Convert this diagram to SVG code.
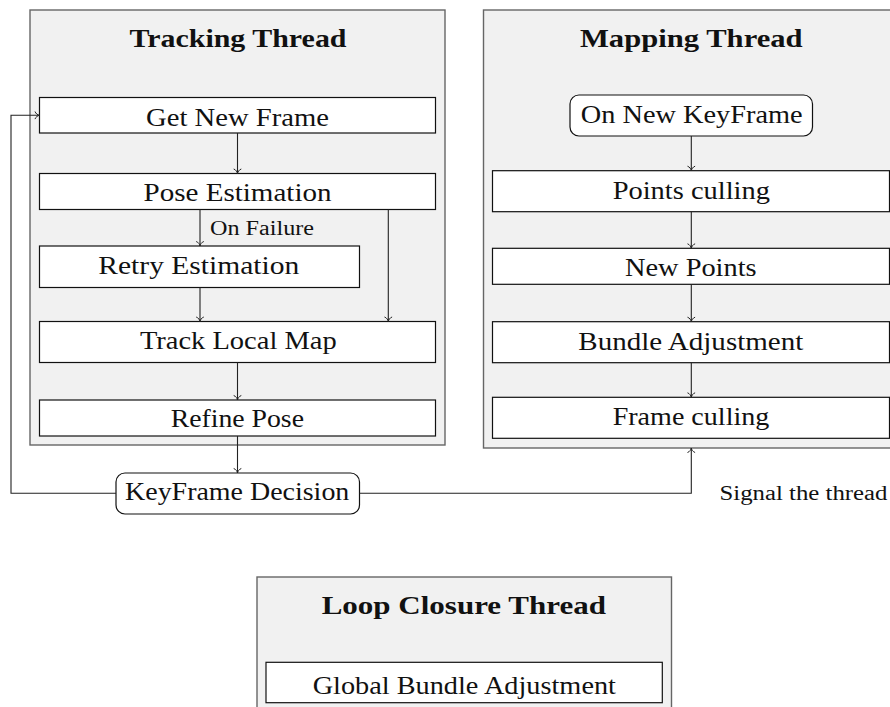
<svg xmlns="http://www.w3.org/2000/svg" width="890" height="707" viewBox="0 0 890 707">
  <style>
    .panel { fill: #f1f1f1; stroke: #666666; stroke-width: 1.4; }
    .box { fill: #ffffff; stroke: #111111; stroke-width: 1.2; }
    .title { font-family: "Liberation Serif", "DejaVu Serif", serif; font-weight: bold; font-size: 26px; fill: #111111; text-anchor: middle; }
    .lbl { font-family: "Liberation Serif", "DejaVu Serif", serif; font-size: 26px; fill: #111111; text-anchor: middle; }
    .note { font-family: "Liberation Serif", "DejaVu Serif", serif; font-size: 20.5px; fill: #111111; }
    .edge { fill: none; stroke: #222222; stroke-width: 1.1; marker-end: url(#tip); }
  </style>
  <defs>
    <marker id="tip" viewBox="-6 -5 8 10" refX="0" refY="0" markerWidth="8" markerHeight="10" markerUnits="userSpaceOnUse" orient="auto">
      <path d="M-4.5,-3.8 C-3.8,-1.6 -1.6,-0.3 0,0 C-1.6,0.3 -3.8,1.6 -4.5,3.8" fill="none" stroke="#222222" stroke-width="1"/>
    </marker>
  </defs>

  <!-- thread panels -->
  <g id="tracking-thread">
    <rect class="panel" x="30" y="10" width="415" height="435"/>
    <text class="title" x="238" y="47" textLength="217" lengthAdjust="spacingAndGlyphs">Tracking Thread</text>
  </g>
  <g id="mapping-thread">
    <rect class="panel" x="483.5" y="10" width="420" height="438"/>
    <text class="title" x="691.3" y="47" textLength="222.7" lengthAdjust="spacingAndGlyphs">Mapping Thread</text>
  </g>
  <g id="loop-closure-thread">
    <rect class="panel" x="257" y="577" width="414.5" height="150"/>
    <text class="title" x="463.8" y="614.3" textLength="284.3" lengthAdjust="spacingAndGlyphs">Loop Closure Thread</text>
  </g>

  <!-- tracking steps -->
  <g id="get-new-frame">
    <rect class="box" x="39.5" y="97.5" width="396" height="35.5"/>
    <text class="lbl" x="237.5" y="125.5" textLength="183" lengthAdjust="spacingAndGlyphs">Get New Frame</text>
  </g>
  <g id="pose-estimation">
    <rect class="box" x="39.5" y="173.5" width="396" height="36"/>
    <text class="lbl" x="237.5" y="200.5" textLength="188" lengthAdjust="spacingAndGlyphs">Pose Estimation</text>
  </g>
  <g id="retry-estimation">
    <rect class="box" x="39.5" y="246" width="320" height="41.5"/>
    <text class="lbl" x="198.8" y="273.5" textLength="201" lengthAdjust="spacingAndGlyphs">Retry Estimation</text>
  </g>
  <g id="track-local-map">
    <rect class="box" x="39.5" y="321.5" width="396" height="41"/>
    <text class="lbl" x="238.3" y="349.3" textLength="196.7" lengthAdjust="spacingAndGlyphs">Track Local Map</text>
  </g>
  <g id="refine-pose">
    <rect class="box" x="39.5" y="400" width="396" height="36"/>
    <text class="lbl" x="237.3" y="427" textLength="133.3" lengthAdjust="spacingAndGlyphs">Refine Pose</text>
  </g>
  <g id="keyframe-decision">
    <rect class="box" x="116" y="473" width="243.5" height="41" rx="9" ry="9"/>
    <text class="lbl" x="237.2" y="500.3" textLength="224.3" lengthAdjust="spacingAndGlyphs">KeyFrame Decision</text>
  </g>

  <!-- mapping steps -->
  <g id="on-new-keyframe">
    <rect class="box" x="570" y="95" width="242.5" height="41" rx="9" ry="9"/>
    <text class="lbl" x="691.7" y="123" textLength="222" lengthAdjust="spacingAndGlyphs">On New KeyFrame</text>
  </g>
  <g id="points-culling">
    <rect class="box" x="492.5" y="170.7" width="397" height="41"/>
    <text class="lbl" x="691.3" y="199.3" textLength="157.3" lengthAdjust="spacingAndGlyphs">Points culling</text>
  </g>
  <g id="new-points">
    <rect class="box" x="492.5" y="248.3" width="397" height="36"/>
    <text class="lbl" x="690.8" y="275.8" textLength="131.7" lengthAdjust="spacingAndGlyphs">New Points</text>
  </g>
  <g id="bundle-adjustment">
    <rect class="box" x="492.5" y="321.7" width="397" height="41"/>
    <text class="lbl" x="690.8" y="350" textLength="225" lengthAdjust="spacingAndGlyphs">Bundle Adjustment</text>
  </g>
  <g id="frame-culling">
    <rect class="box" x="492.5" y="397.3" width="397" height="41"/>
    <text class="lbl" x="691" y="425.3" textLength="156.7" lengthAdjust="spacingAndGlyphs">Frame culling</text>
  </g>

  <!-- loop closure step -->
  <g id="global-bundle-adjustment">
    <rect class="box" x="266" y="662.3" width="396.3" height="40.4"/>
    <text class="lbl" x="464.3" y="693.5" textLength="303.3" lengthAdjust="spacingAndGlyphs">Global Bundle Adjustment</text>
  </g>

  <!-- connectors -->
  <g id="connectors">
    <path class="edge" d="M237.5,133 V173.5"/>
    <path class="edge" d="M200,209.5 V246"/>
    <text class="note" x="210" y="235" textLength="104" lengthAdjust="spacingAndGlyphs">On Failure</text>
    <path class="edge" d="M388.3,209.5 V321.5"/>
    <path class="edge" d="M200,287.5 V321.5"/>
    <path class="edge" d="M237.5,362.5 V400"/>
    <path class="edge" d="M237.5,436 V473"/>
    <path class="edge" d="M116,493.3 H11 V115.3 H39.5"/>
    <path class="edge" d="M359.5,493.3 H691.3 V448"/>
    <text class="note" x="719.5" y="499.5" textLength="168" lengthAdjust="spacingAndGlyphs">Signal the thread</text>
    <path class="edge" d="M691.3,136 V170.7"/>
    <path class="edge" d="M691.3,211.7 V248.3"/>
    <path class="edge" d="M691.3,284.3 V321.7"/>
    <path class="edge" d="M691.3,362.7 V397.3"/>
  </g>
</svg>
